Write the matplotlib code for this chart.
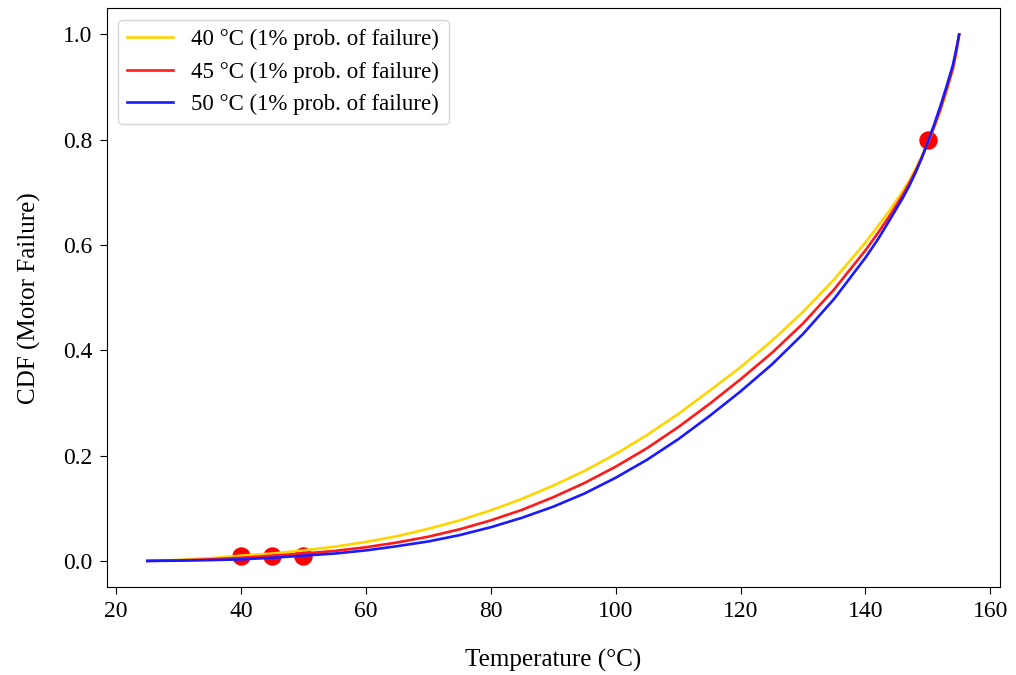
import matplotlib
matplotlib.use("Agg")
import matplotlib.pyplot as plt

plt.rcParams['font.family'] = ['Liberation Serif', 'DejaVu Serif']

temp = [25, 30, 35, 40, 45, 50, 55, 60, 65, 70, 75, 80, 85, 90, 95, 100,
        105, 110, 115, 120, 125, 130, 135, 140, 142, 144, 146, 147, 148, 149,
        150, 151, 152, 153, 154, 154.5, 155]

cdf_40 = [0.0, 0.002, 0.005, 0.010, 0.014, 0.020, 0.027, 0.036, 0.047, 0.061,
          0.077, 0.096, 0.118, 0.143, 0.171, 0.203, 0.239, 0.279, 0.323, 0.368,
          0.418, 0.473, 0.535, 0.605, 0.636, 0.668, 0.703, 0.722, 0.744, 0.768,
          0.795, 0.823, 0.855, 0.892, 0.933, 0.962, 1.0]
cdf_45 = [0.0, 0.001, 0.003, 0.006, 0.010, 0.014, 0.019, 0.026, 0.035, 0.046,
          0.060, 0.077, 0.097, 0.121, 0.148, 0.179, 0.214, 0.254, 0.298, 0.345,
          0.395, 0.451, 0.516, 0.590, 0.623, 0.658, 0.696, 0.717, 0.740, 0.766,
          0.795, 0.825, 0.858, 0.896, 0.936, 0.965, 1.0]
cdf_50 = [0.0, 0.0005, 0.0015, 0.003, 0.006, 0.010, 0.014, 0.020, 0.028, 0.037,
          0.049, 0.064, 0.082, 0.103, 0.128, 0.158, 0.192, 0.231, 0.275, 0.322,
          0.373, 0.431, 0.498, 0.576, 0.611, 0.650, 0.690, 0.712, 0.737, 0.765,
          0.796, 0.829, 0.864, 0.902, 0.942, 0.970, 1.0]

labels = ['40 °C (1% prob. of failure)',
          '45 °C (1% prob. of failure)',
          '50 °C (1% prob. of failure)']
colors = ['#FFD500', '#FF1A1A', '#1A1AFF']

# fitted points
pts_x = [40, 45, 50, 150]
pts_y = [0.01, 0.01, 0.01, 0.8]

fig = plt.figure(figsize=(10.16, 6.75), dpi=100)
ax = fig.add_axes([0.105, 0.130, 0.879, 0.858])

ax.scatter(pts_x, pts_y, s=150, color='red', zorder=2)
for ys, lab, c in zip([cdf_40, cdf_45, cdf_50], labels, colors):
    ax.plot(temp, ys, color=c, linewidth=1.9, label=lab, zorder=3)

ax.set_xlim(18.5, 161.5)
ax.set_ylim(-0.05, 1.05)
ax.set_xticks([20, 40, 60, 80, 100, 120, 140, 160])
ax.set_yticks([0.0, 0.2, 0.4, 0.6, 0.8, 1.0])
ax.tick_params(labelsize=17, length=5, pad=5)
ax.set_xlabel('Temperature (°C)', fontsize=18, labelpad=19)
ax.set_ylabel('CDF (Motor Failure)', fontsize=18, labelpad=16)
ax.legend(loc='upper left', fontsize=16.5)

fig.savefig('out.png', dpi=100)
